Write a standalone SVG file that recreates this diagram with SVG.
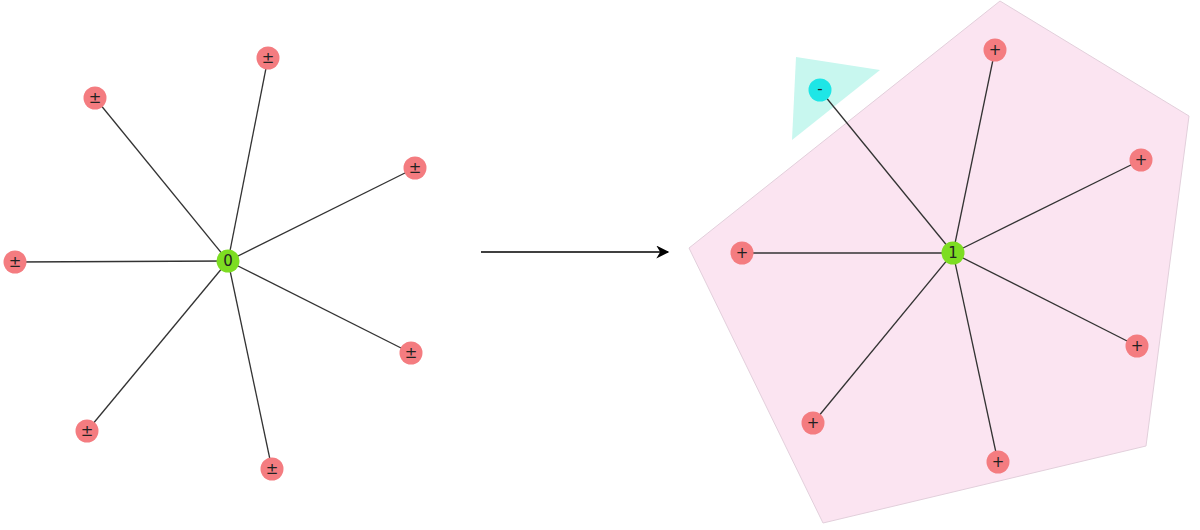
<svg xmlns="http://www.w3.org/2000/svg" width="1200" height="530" viewBox="0 0 1200 530">
<defs>
<style>
.edge{stroke:#333;stroke-width:1.3;fill:none}
.red{fill:#f47c80}
.grn{fill:#7ddd22}
.cyn{fill:#1ee6e6}
.lbl{font-family:"DejaVu Sans","Liberation Sans",sans-serif;font-size:15px;fill:#222;text-anchor:middle;dominant-baseline:central}
</style>
<marker id="ah" viewBox="0 0 10 10" refX="9" refY="5" markerWidth="20" markerHeight="13" markerUnits="userSpaceOnUse" orient="auto">
<path d="M0,0 L10,5 L0,10 L3,5 Z" fill="#000"/>
</marker>
</defs>
<rect width="1200" height="530" fill="#fff"/>
<g id="regions">
<polygon id="pentagon" points="1000,1 1189,116 1146,446 823,523 689,248" fill="#fbe4f1" stroke="#e2cfdb" stroke-width="1"/>
<polygon id="triangle" points="796,57 880,70 792,140" fill="#c8f7ef"/>
</g>
<g id="connectors">
<line class="edge" x1="228" y1="261" x2="268" y2="58"/>
<line class="edge" x1="228" y1="261" x2="95" y2="98"/>
<line class="edge" x1="228" y1="261" x2="415" y2="168"/>
<line class="edge" x1="228" y1="261" x2="15" y2="262"/>
<line class="edge" x1="228" y1="261" x2="411" y2="353"/>
<line class="edge" x1="228" y1="261" x2="87" y2="431"/>
<line class="edge" x1="228" y1="261" x2="272" y2="469"/>
<line class="edge" x1="953" y1="253" x2="820" y2="90"/>
<line class="edge" x1="953" y1="253" x2="995" y2="50"/>
<line class="edge" x1="953" y1="253" x2="1141" y2="160"/>
<line class="edge" x1="953" y1="253" x2="1137" y2="346"/>
<line class="edge" x1="953" y1="253" x2="998" y2="462"/>
<line class="edge" x1="953" y1="253" x2="813" y2="423"/>
<line class="edge" x1="953" y1="253" x2="742" y2="253"/>
<line id="transform-arrow" x1="481" y1="252" x2="668" y2="252" stroke="#000" stroke-width="1.3" marker-end="url(#ah)"/>
</g>
<g id="n0"><circle class="grn" cx="228" cy="261" r="11.5"/><text class="lbl" x="228" y="261">0</text></g>
<g id="l1"><circle class="red" cx="268" cy="58" r="11.5"/><text class="lbl" x="268" y="58">±</text></g>
<g id="l2"><circle class="red" cx="95" cy="98" r="11.5"/><text class="lbl" x="95" y="98">±</text></g>
<g id="l3"><circle class="red" cx="415" cy="168" r="11.5"/><text class="lbl" x="415" y="168">±</text></g>
<g id="l4"><circle class="red" cx="15" cy="262" r="11.5"/><text class="lbl" x="15" y="262">±</text></g>
<g id="l5"><circle class="red" cx="411" cy="353" r="11.5"/><text class="lbl" x="411" y="353">±</text></g>
<g id="l6"><circle class="red" cx="87" cy="431" r="11.5"/><text class="lbl" x="87" y="431">±</text></g>
<g id="l7"><circle class="red" cx="272" cy="469" r="11.5"/><text class="lbl" x="272" y="469">±</text></g>
<g id="n1"><circle class="grn" cx="953" cy="253" r="11.5"/><text class="lbl" x="953" y="253">1</text></g>
<g id="m1"><circle class="cyn" cx="820" cy="90" r="11.5"/><text class="lbl" x="820" y="89">-</text></g>
<g id="r1"><circle class="red" cx="995" cy="50" r="11.5"/><text class="lbl" x="995" y="50">+</text></g>
<g id="r2"><circle class="red" cx="1141" cy="160" r="11.5"/><text class="lbl" x="1141" y="160">+</text></g>
<g id="r3"><circle class="red" cx="1137" cy="346" r="11.5"/><text class="lbl" x="1137" y="346">+</text></g>
<g id="r4"><circle class="red" cx="998" cy="462" r="11.5"/><text class="lbl" x="998" y="462">+</text></g>
<g id="r5"><circle class="red" cx="813" cy="423" r="11.5"/><text class="lbl" x="813" y="423">+</text></g>
<g id="r6"><circle class="red" cx="742" cy="253" r="11.5"/><text class="lbl" x="742" y="253">+</text></g>
</svg>
